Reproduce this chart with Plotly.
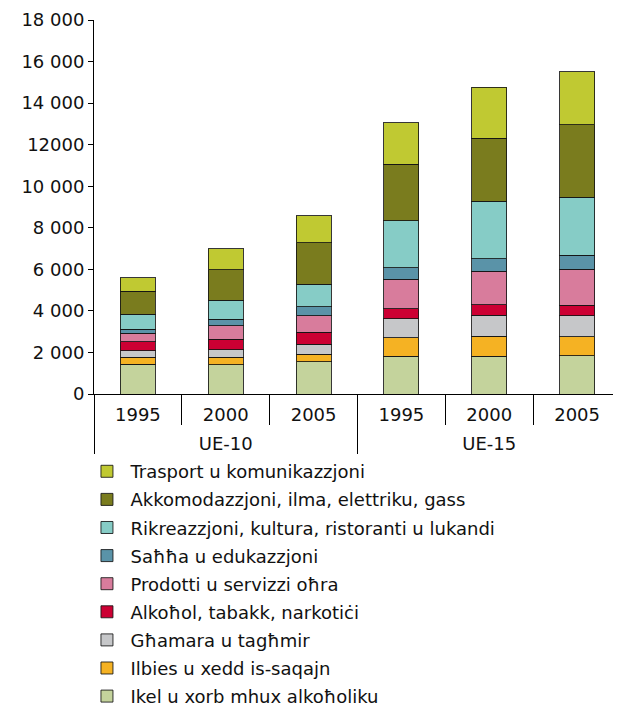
import plotly.graph_objects as go

groups = ["UE-10", "UE-10", "UE-10", "UE-15", "UE-15", "UE-15"]
years = ["1995", "2000", "2005", "1995", "2000", "2005"]

series_names = [
    "Ikel u xorb mhux alkoħoliku",
    "Ilbies u xedd is-saqajn",
    "Għamara u tagħmir",
    "Alkoħol, tabakk, narkotiċi",
    "Prodotti u servizzi oħra",
    "Saħħa u edukazzjoni",
    "Rikreazzjoni, kultura, ristoranti u lukandi",
    "Akkomodazzjoni, ilma, elettriku, gass",
    "Trasport u komunikazzjoni",
]

ikel = [1430, 1400, 1555, 1815, 1815, 1830]
ilbies = [335, 370, 355, 895, 960, 930]
ghamara = [305, 350, 480, 915, 1010, 995]
alkohol = [445, 515, 580, 480, 510, 515]
prodotti = [405, 640, 800, 1415, 1610, 1735]
sahha = [195, 320, 430, 560, 605, 675]
rikreazzjoni = [720, 915, 1080, 2250, 2765, 2790]
akkomodazzjoni = [1120, 1460, 1990, 2730, 3030, 3480]
trasport = [640, 1010, 1300, 2000, 2455, 2550]

series_values = [ikel, ilbies, ghamara, alkohol, prodotti, sahha,
                 rikreazzjoni, akkomodazzjoni, trasport]
colors = ["#C4D39C", "#F5B223", "#C6C7C9", "#CC0033", "#D87C9C",
          "#5A93A8", "#86CCC6", "#7A7C1E", "#C0C932"]

ytickvals = [0, 2000, 4000, 6000, 8000, 10000, 12000, 14000, 16000, 18000]
yticktext = ["0", "2 000", "4 000", "6 000", "8 000", "10 000", "12000",
             "14 000", "16 000", "18 000"]

font = dict(family="DejaVu Sans, Verdana, sans-serif", size=18, color="#111111")

# taller (invisible) padding around the year labels pushes the group row lower
pad = "<span style='font-size:27px'>\u00a0</span>"
year_labels = [pad + y + pad for y in years]

fig = go.Figure()
for i, (name, vals, col) in enumerate(zip(series_names, series_values, colors)):
    fig.add_trace(go.Bar(
        x=[groups, year_labels], y=vals, name=name, legendgroup=name,
        legendrank=1000 - i * 10,
        marker=dict(color=col, line=dict(color="rgba(20,20,20,0.85)", width=1)),
    ))

fig.update_layout(
    width=613, height=700,
    barmode="stack", bargap=0.6,
    plot_bgcolor="white", paper_bgcolor="white",
    font=font,
    margin=dict(l=86, r=0, t=12, b=314, autoexpand=False),
    showlegend=True,
    legend=dict(
        orientation="v", x=-0.02, xanchor="left", y=-0.158, yanchor="top",
        traceorder="grouped", tracegroupgap=1.7,
        itemwidth=37, font=font, bgcolor="rgba(0,0,0,0)",
    ),
    xaxis=dict(
        type="multicategory", showline=True, linecolor="black", linewidth=1,
        ticks="outside", tickson="boundaries", ticklen=30, tickcolor="black",
        ticklabelstandoff=4,
        showdividers=True, dividercolor="black", dividerwidth=1,
        showgrid=False, zeroline=False, tickfont=font,
    ),
    yaxis=dict(
        range=[0, 18000], tickvals=ytickvals, ticktext=yticktext,
        showline=True, linecolor="black", linewidth=1,
        ticks="outside", ticklen=5, tickcolor="black",
        showgrid=False, zeroline=False, tickfont=font,
    ),
)

fig.write_html("out.html")
